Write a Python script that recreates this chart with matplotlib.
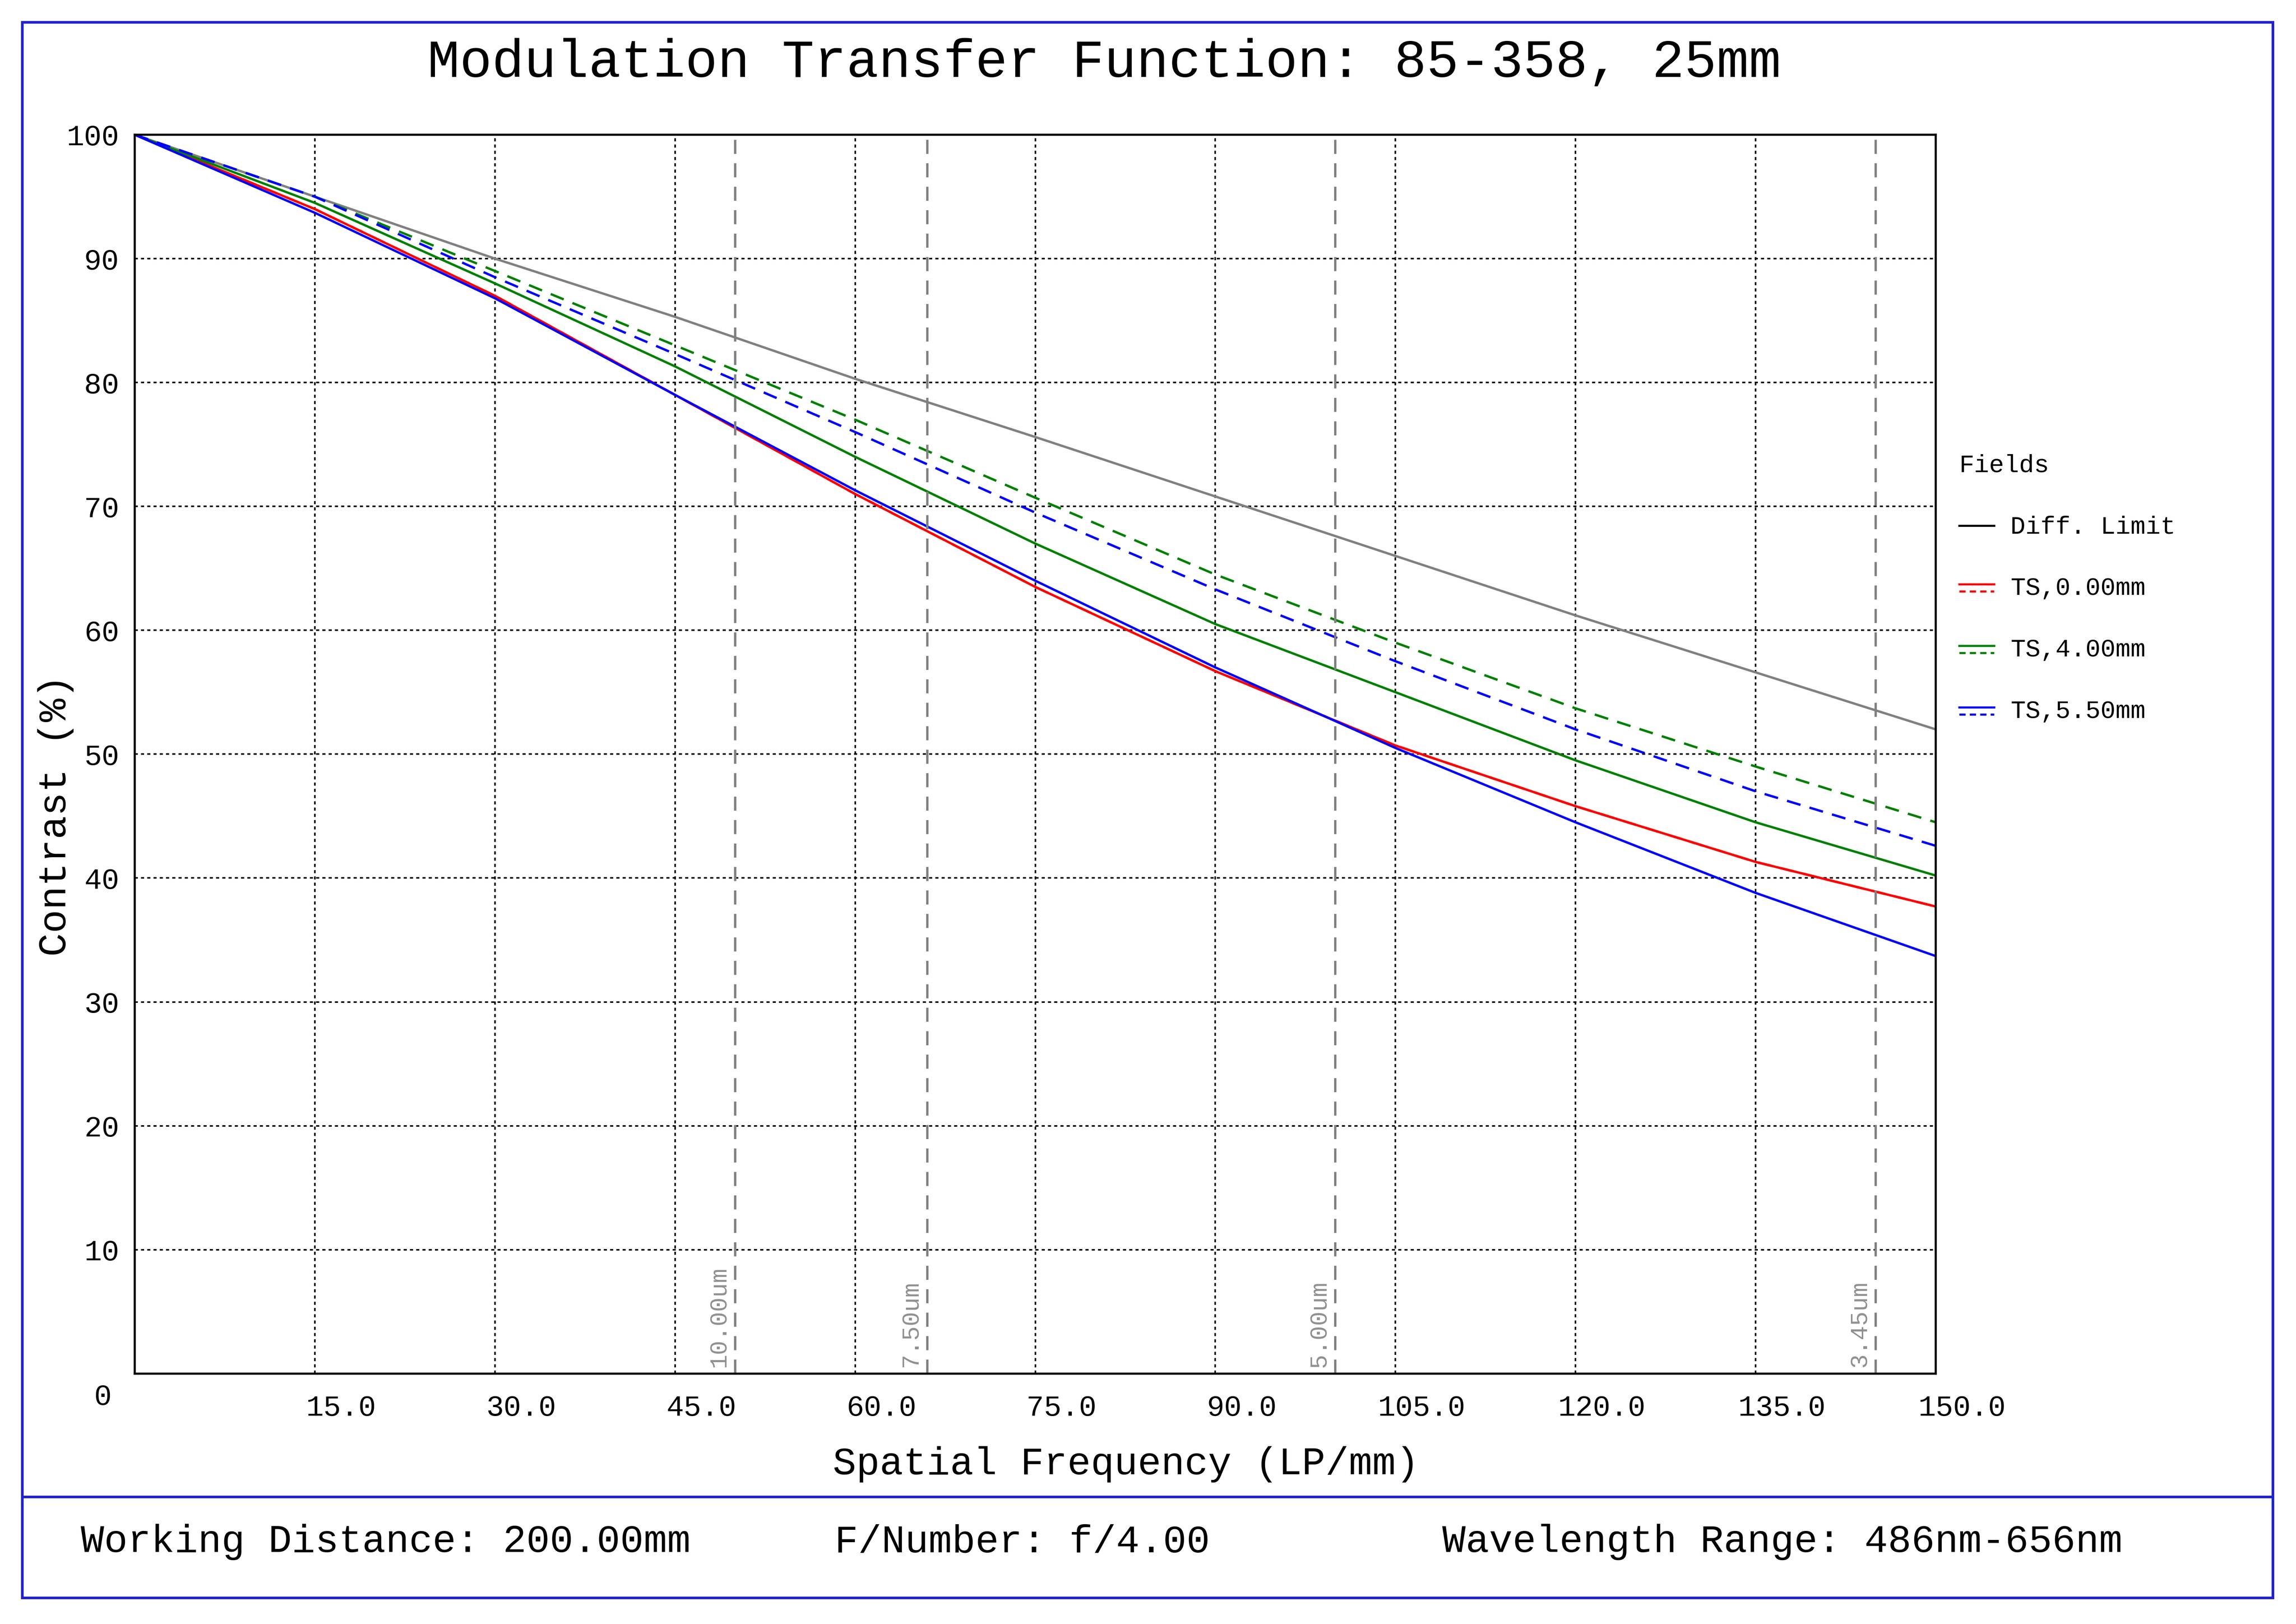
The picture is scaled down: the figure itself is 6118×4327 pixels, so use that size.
import numpy as np
import matplotlib.pyplot as plt
from matplotlib.lines import Line2D
from matplotlib.patches import Rectangle
from matplotlib.transforms import ScaledTranslation

# data
freq = [0, 15, 30, 45, 60, 75, 90, 105, 120, 135, 150]
diff_limit = [100, 95.0, 90.0, 85.3, 80.3, 75.6, 70.8, 66.0, 61.2, 56.6, 52.0]
ts0_t = [100, 94.0, 87.0, 79.0, 71.0, 63.5, 56.7, 50.7, 45.8, 41.3, 37.7]
ts0_s = [100, 94.0, 87.0, 79.0, 71.0, 63.5, 56.7, 50.7, 45.8, 41.3, 37.7]
ts4_t = [100, 94.5, 88.0, 81.3, 74.0, 67.0, 60.5, 55.0, 49.5, 44.5, 40.2]
ts4_s = [100, 95.0, 89.0, 83.0, 77.0, 70.7, 64.5, 59.0, 53.7, 49.0, 44.5]
ts55_t = [100, 93.7, 86.8, 79.0, 71.3, 64.0, 57.0, 50.5, 44.5, 38.8, 33.7]
ts55_s = [100, 95.0, 88.5, 82.3, 76.0, 69.5, 63.3, 57.5, 52.0, 47.0, 42.6]
nyq_freq = [50.0, 66.0, 100.0, 145.0]
nyq_labels = ["10.00um", "7.50um", "5.00um", "3.45um"]
legend_labels = ["Diff. Limit", "TS,0.00mm", "TS,4.00mm", "TS,5.50mm"]
legend_colors = ["black", "red", "green", "blue"]

font = "Liberation Mono"
W, H = 1568.0, 1109.0  # reference layout coords (display scale)

fig = plt.figure(figsize=(61.18, 43.27), dpi=100)
fig.patch.set_facecolor("white")

def fx(x):
    return x / W

def fy(y):
    return 1 - y / H

# outer frame and footer separator
fig.add_artist(Rectangle((fx(15), fy(1091)), fx(1552) - fx(15), fy(15) - fy(1091),
                         transform=fig.transFigure, fill=False, edgecolor="#2020d0", lw=5))
fig.add_artist(Line2D([fx(15), fx(1552)], [fy(1022), fy(1022)], transform=fig.transFigure,
                      color="#2020d0", lw=5))

ax = fig.add_axes([fx(92), fy(938), fx(1322) - fx(92), fy(92) - fy(938)])
ax.set_xlim(0, 150)
ax.set_ylim(0, 100)

lw = 4.5
ax.plot(freq, diff_limit, color="#808080", lw=lw)
ax.plot(freq, ts0_s, color="red", lw=lw, ls=(0, (6, 4)))
ax.plot(freq, ts0_t, color="red", lw=lw)
ax.plot(freq, ts4_s, color="green", lw=lw, ls=(0, (6, 4)))
ax.plot(freq, ts4_t, color="green", lw=lw)
ax.plot(freq, ts55_s, color="blue", lw=lw, ls=(0, (6, 4)))
ax.plot(freq, ts55_t, color="blue", lw=lw)

for f, lab in zip(nyq_freq, nyq_labels):
    ax.axvline(f, color="#808080", lw=4.5, ls=(0, (6, 4)))
    ax.text(f - 0.4, 0.5, lab, rotation=90, ha="right", va="bottom", color="#909090",
            fontsize=46, family=font)

ax.set_xticks(freq[1:])
ax.set_xticklabels(["%.1f" % f for f in freq[1:]])
ax.set_yticks(range(10, 101, 10))
ax.grid(True, color="black", ls=(0, (2, 2)), lw=3)
ax.tick_params(length=0, labelsize=56, pad=30)
ax.tick_params(axis="x", pad=40)
shift = ScaledTranslation(0.7, 0, fig.dpi_scale_trans)
for lab in ax.get_xticklabels():
    lab.set_family(font)
    lab.set_transform(lab.get_transform() + shift)
for lab in ax.get_yticklabels():
    lab.set_family(font)
for sp in ax.spines.values():
    sp.set_linewidth(4)
fig.text(fx(70), fy(954), "0", fontsize=56, family=font, ha="center", va="center")

ax.set_xlabel("Spatial Frequency (LP/mm)", fontsize=75, family=font)
ax.xaxis.set_label_coords((769 - 92) / 1230, -(1000 - 938) / 846)
ax.xaxis.label.set_va("center")
ax.set_ylabel("Contrast (%)", fontsize=75, family=font)
ax.yaxis.set_label_coords((38 - 92) / 1230, (938 - 557) / 846)
ax.yaxis.label.set_va("center")

fig.text(fx(754), fy(43), "Modulation Transfer Function: 85-358, 25mm", fontsize=103,
         family=font, ha="center", va="center")

# legend
fig.text(fx(1338), fy(318), "Fields", fontsize=48, family=font, va="center")
for i, (lab, c) in enumerate(zip(legend_labels, legend_colors)):
    y = 360 + 42 * i
    if i == 0:
        fig.add_artist(Line2D([fx(1338), fx(1362)], [fy(y - 1), fy(y - 1)],
                              transform=fig.transFigure, color=c, lw=4))
    else:
        fig.add_artist(Line2D([fx(1338), fx(1362)], [fy(y - 3), fy(y - 3)],
                              transform=fig.transFigure, color=c, lw=4))
        fig.add_artist(Line2D([fx(1338), fx(1362)], [fy(y + 2), fy(y + 2)],
                              transform=fig.transFigure, color=c, lw=4, ls=(0, (3, 2))))
    fig.text(fx(1373), fy(y), lab, fontsize=48, family=font, va="center")

# footer
fig.text(fx(55), fy(1053), "Working Distance: 200.00mm", fontsize=75, family=font, va="center")
fig.text(fx(570), fy(1053), "F/Number: f/4.00", fontsize=75, family=font, va="center")
fig.text(fx(985), fy(1053), "Wavelength Range: 486nm-656nm", fontsize=75, family=font, va="center")

fig.savefig("out.png", dpi=100)
